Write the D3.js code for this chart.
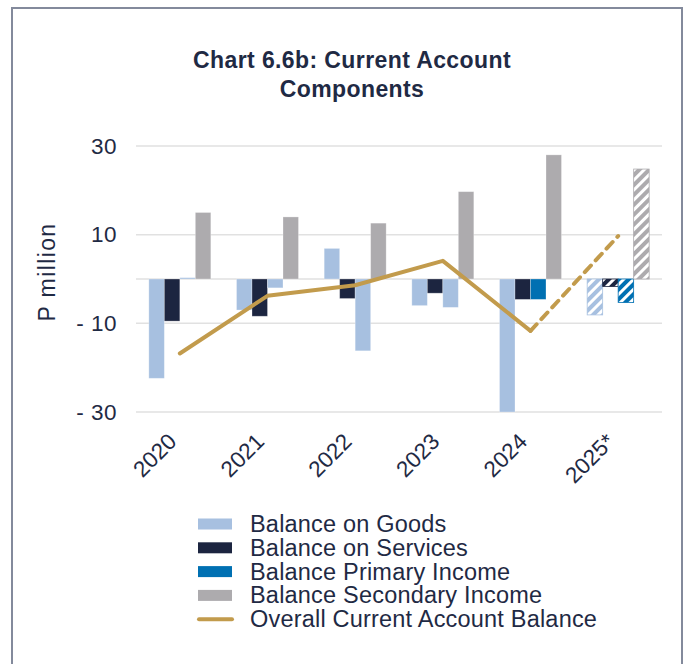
<!DOCTYPE html>
<html>
<head>
<meta charset="utf-8">
<script src="https://cdn.jsdelivr.net/npm/d3@7"></script>
<style>
  html, body { margin: 0; padding: 0; background: #fff; }
  svg { display: block; font-family: "Liberation Sans", Arial, sans-serif; }
</style>
</head>
<body>
<svg id="chart" width="689" height="664"></svg>
<script>
// Current account components, P million
const years = ["2020", "2021", "2022", "2023", "2024", "2025*"];
const goods = [-22.4, -7.0, 6.9, -6.0, -30.0, -8.1];
const services = [-9.5, -8.4, -4.4, -3.2, -4.6, -1.7];
const primaryIncome = [0.3, -2.0, -16.2, -6.4, -4.6, -5.3];
const secondaryIncome = [15.0, 14.0, 12.6, 19.7, 28.0, 24.8];
const overallBalance = [-16.8, -3.8, -1.4, 4.1, -11.7, 9.7];
const yTicks = [30, 10, -10, -30];
const forecastYear = "2025*";

const colors = {
  goods: "#a7c0e0",
  services: "#1c2540",
  primary: "#0070b2",
  secondary: "#adabae",
  overall: "#c29b4c",
  text: "#1f2a44",
  grid: "#e1e1e1"
};

const series = [
  { key: "goods", label: "Balance on Goods", values: goods },
  { key: "services", label: "Balance on Services", values: services },
  { key: "primary", label: "Balance Primary Income", values: primaryIncome },
  { key: "secondary", label: "Balance Secondary Income", values: secondaryIncome }
];

const svg = d3.select("#chart");

// outer frame
svg.append("rect")
  .attr("x", 12).attr("y", 8).attr("width", 670).attr("height", 720)
  .attr("fill", "none").attr("stroke", "#838a9c").attr("stroke-width", 2);

// title
const title = svg.append("text")
  .attr("text-anchor", "middle")
  .attr("fill", colors.text)
  .attr("font-weight", "bold")
  .attr("font-size", 23)
  .attr("letter-spacing", 0.4);
title.append("tspan").attr("x", 352).attr("y", 68).text("Chart 6.6b: Current Account");
title.append("tspan").attr("x", 352).attr("y", 97).text("Components");

// scales
const x = d3.scaleBand().domain(years).range([136, 662]);
const bw = x.bandwidth();
const groupW = bw * 0.707;
const x1 = d3.scaleBand().domain(series.map(s => s.key)).range([0, groupW]);
const y = d3.scaleLinear().domain([-30, 30]).range([412, 146]);

// hatch patterns for the forecast year
const defs = svg.append("defs");
series.forEach(s => {
  const p = defs.append("pattern")
    .attr("id", "hatch-" + s.key)
    .attr("patternUnits", "userSpaceOnUse")
    .attr("width", 7).attr("height", 7)
    .attr("patternTransform", "rotate(45)");
  p.append("rect").attr("width", 7).attr("height", 7).attr("fill", colors[s.key]);
  p.append("rect").attr("width", 3).attr("height", 7).attr("fill", "#fff");
});

// gridlines
const grid = svg.append("g");
grid.selectAll("line")
  .data(yTicks.concat([0]))
  .join("line")
  .attr("x1", 136).attr("x2", 662)
  .attr("y1", d => y(d)).attr("y2", d => y(d))
  .attr("stroke", colors.grid).attr("stroke-width", 1.5);

// y axis labels
const fmt = d => d < 0 ? "- " + Math.abs(d) : String(d);
const yAxis = d3.axisLeft(y).tickValues(yTicks).tickFormat(fmt).tickSize(0).tickPadding(0);
const yg = svg.append("g").attr("transform", "translate(117,0)").call(yAxis);
yg.select(".domain").remove();
yg.selectAll("text")
  .attr("font-family", "Liberation Sans, Arial, sans-serif")
  .attr("font-size", 22.5)
  .attr("letter-spacing", 0.5)
  .attr("fill", colors.text);

// y axis title
svg.append("text")
  .attr("transform", "translate(55,272) rotate(-90)")
  .attr("text-anchor", "middle")
  .attr("font-size", 23)
  .attr("letter-spacing", 1.4)
  .attr("fill", colors.text)
  .text("P million");

// bars
const fillFor = (s, i) => {
  if (years[i] === forecastYear) return "url(#hatch-" + s.key + ")";
  // primary income for the earlier years carries the goods shade
  if (s.key === "primary" && i < 4) return colors.goods;
  return colors[s.key];
};
const bars = svg.append("g");
series.forEach(s => {
  bars.append("g").selectAll("rect")
    .data(s.values.map((v, i) => ({ v, i, year: years[i] })))
    .join("rect")
    .attr("x", d => x(d.year) + (bw - groupW) / 2 + x1(s.key))
    .attr("width", x1.bandwidth())
    .attr("y", d => y(Math.max(0, d.v)))
    .attr("height", d => Math.abs(y(d.v) - y(0)))
    .attr("fill", d => fillFor(s, d.i))
    .attr("stroke", d => d.year === forecastYear ? colors[s.key] : "#ffffff")
    .attr("stroke-opacity", d => d.year === forecastYear ? 1 : 0.35)
    .attr("stroke-width", 0.8);
});

// overall balance line: actuals solid, forecast dashed
const pts = overallBalance.map((v, i) => [x(years[i]) + bw / 2, y(v)]);
const line = d3.line();
const fi = years.indexOf(forecastYear);
svg.append("path")
  .attr("d", line(pts.slice(0, fi)))
  .attr("fill", "none").attr("stroke", colors.overall)
  .attr("stroke-width", 4).attr("stroke-linejoin", "round").attr("stroke-linecap", "round");
svg.append("path")
  .attr("d", line(pts.slice(fi - 1)))
  .attr("fill", "none").attr("stroke", colors.overall)
  .attr("stroke-width", 4).attr("stroke-dasharray", "9,7").attr("stroke-linecap", "round");

// x axis labels
const xg = svg.append("g");
xg.selectAll("text")
  .data(years)
  .join("text")
  .attr("transform", d => `translate(${x(d) + bw / 2 - 2},443) rotate(-45)`)
  .attr("text-anchor", "end")
  .attr("font-size", 22.5)
  .attr("fill", colors.text)
  .text(d => d);

// legend
const legendItems = series.map(s => ({ key: s.key, label: s.label, type: "rect" }))
  .concat([{ key: "overall", label: "Overall Current Account Balance", type: "line" }]);
const lg = svg.append("g").attr("transform", "translate(198,524)");
legendItems.forEach((d, i) => {
  const row = lg.append("g").attr("transform", `translate(0,${i * 23.8})`);
  if (d.type === "rect") {
    row.append("rect").attr("x", 0).attr("y", -5.5).attr("width", 34).attr("height", 11)
      .attr("fill", colors[d.key]);
  } else {
    row.append("line").attr("x1", 1).attr("x2", 34).attr("y1", 0).attr("y2", 0)
      .attr("stroke", colors.overall).attr("stroke-width", 4).attr("stroke-linecap", "round");
  }
  row.append("text")
    .attr("x", 52).attr("y", 8)
    .attr("font-size", 23.5)
    .attr("letter-spacing", 0.2)
    .attr("fill", colors.text)
    .text(d.label);
});
</script>
</body>
</html>
